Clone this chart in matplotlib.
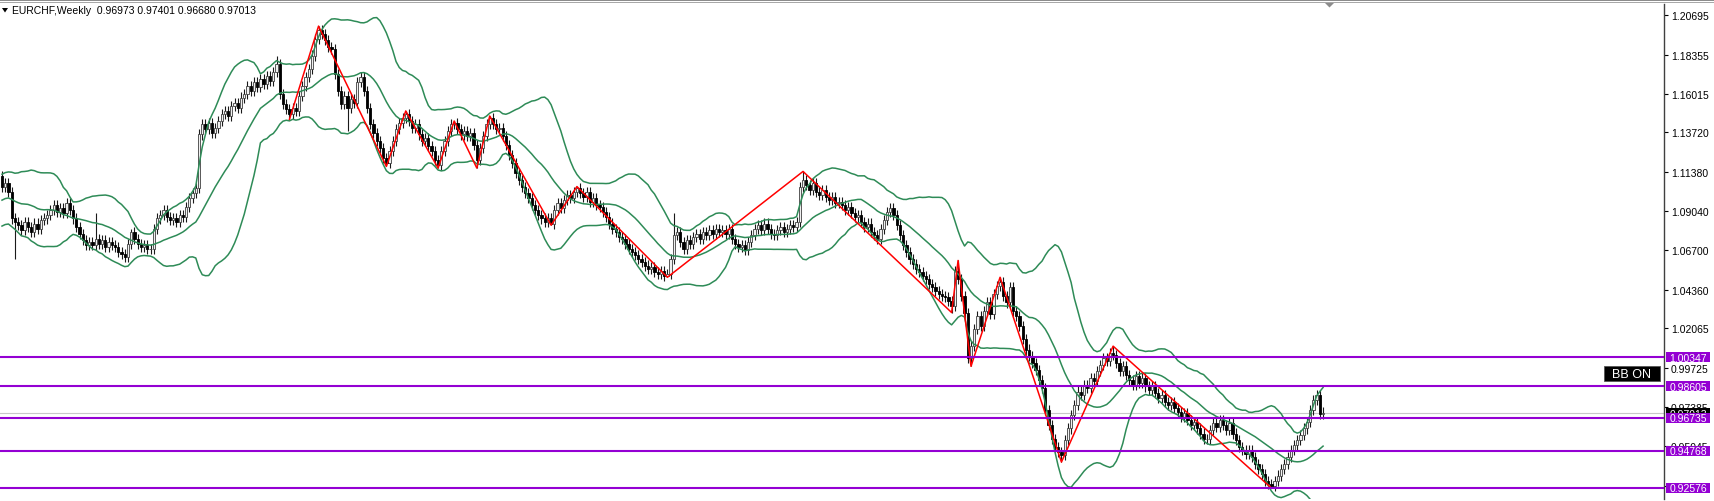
import numpy as np
import pandas as pd
import matplotlib
matplotlib.use("Agg")
import matplotlib.pyplot as plt
from matplotlib.patches import Rectangle, Polygon

plt.rcParams['font.family'] = ['Liberation Sans', 'DejaVu Sans']

# ---------------- data ----------------
symbol = "EURCHF,Weekly"
last_bar_ohlc = ["0.96973", "0.97401", "0.96680", "0.97013"]
current_price = 0.97013

# closes before the visible window (only used to warm up the Bollinger bands)
warmup_closes = [1.088, 1.095, 1.103, 1.106, 1.099, 1.092, 1.087, 1.085, 1.091, 1.098,
                 1.102, 1.096, 1.090, 1.086, 1.092, 1.099, 1.104, 1.109, 1.111]

closes_a = [1.105, 1.107, 1.102, 1.086, 1.084,
            1.082, 1.079, 1.084, 1.081, 1.078, 1.083, 1.080, 1.085, 1.086,
            1.088, 1.091, 1.094, 1.090, 1.092, 1.089, 1.095, 1.091,
            1.086, 1.081, 1.077, 1.073, 1.070,
            1.072, 1.070, 1.074, 1.071, 1.073, 1.069, 1.072, 1.070, 1.069, 1.066, 1.065, 1.063,
            1.071, 1.078, 1.074,
            1.071, 1.069, 1.070, 1.068, 1.068,
            1.080, 1.086, 1.088,
            1.091, 1.087, 1.085, 1.086, 1.084, 1.088, 1.087,
            1.093, 1.098, 1.101, 1.104]
closes_b = [1.136,
            1.142, 1.139, 1.143, 1.137, 1.140, 1.144,
            1.148, 1.150, 1.147, 1.153, 1.155, 1.152, 1.158, 1.160,
            1.165, 1.162, 1.167, 1.164, 1.169, 1.166, 1.171, 1.168, 1.173, 1.178,
            1.160,
            1.154, 1.151, 1.148, 1.152, 1.150,
            1.159, 1.165, 1.170, 1.175, 1.183, 1.193,
            1.198, 1.196, 1.192, 1.188, 1.187,
            1.172,
            1.162, 1.154, 1.159, 1.152, 1.157, 1.155,
            1.167, 1.170, 1.162,
            1.152, 1.142, 1.137, 1.132, 1.128,
            1.122]
closes_c = [1.119,
            1.126, 1.132, 1.139, 1.143, 1.146, 1.148,
            1.144, 1.140, 1.142, 1.136, 1.132, 1.134, 1.129, 1.126, 1.121, 1.118,
            1.126, 1.132, 1.138, 1.142, 1.143,
            1.139, 1.136, 1.138, 1.135, 1.137, 1.130, 1.121,
            1.128, 1.135, 1.142, 1.146,
            1.142, 1.139, 1.140, 1.135, 1.130, 1.124, 1.119, 1.113,
            1.109, 1.105, 1.101, 1.098, 1.094, 1.091, 1.088, 1.086,
            1.084, 1.086, 1.083,
            1.091, 1.095, 1.092, 1.097, 1.100, 1.098, 1.102, 1.104,
            1.101, 1.099, 1.102, 1.096, 1.098, 1.094,
            1.093, 1.090, 1.087, 1.083, 1.080, 1.078, 1.075, 1.074, 1.071, 1.068,
            1.066, 1.064, 1.062, 1.060, 1.058, 1.056, 1.057, 1.054, 1.053,
            1.055, 1.052, 1.053]
closes_d = [1.062, 1.076, 1.078, 1.072,
            1.068, 1.073, 1.071, 1.075, 1.077, 1.074, 1.078, 1.076, 1.079, 1.077, 1.080, 1.078,
            1.079, 1.077, 1.080, 1.074, 1.071, 1.069, 1.070, 1.067, 1.072,
            1.076, 1.080, 1.082, 1.079, 1.083, 1.080, 1.077, 1.076, 1.079, 1.081, 1.078,
            1.080, 1.082, 1.081, 1.084,
            1.105, 1.109]
closes_e = [1.106, 1.103, 1.107, 1.102, 1.100, 1.103, 1.099, 1.097, 1.099, 1.095, 1.096, 1.094,
            1.091, 1.093, 1.089, 1.087, 1.088, 1.084, 1.081, 1.083, 1.078, 1.076, 1.074,
            1.080, 1.085, 1.090, 1.092, 1.088,
            1.082, 1.076, 1.070, 1.066, 1.062, 1.059, 1.056, 1.054, 1.052, 1.050, 1.047, 1.045,
            1.043, 1.041, 1.040, 1.039, 1.037,
            1.034,
            1.055, 1.050,
            1.040, 1.030, 1.003,
            1.010]
closes_f = [1.020, 1.028, 1.022, 1.031, 1.036, 1.029, 1.041, 1.046, 1.048,
            1.040, 1.036, 1.045, 1.031, 1.028,
            1.022, 1.014, 1.008, 1.004, 1.000, 0.996, 0.990,
            0.985, 0.972, 0.963, 0.955, 0.950, 0.947,
            0.945,
            0.954, 0.961, 0.969, 0.975, 0.983, 0.981, 0.987, 0.985, 0.991, 0.989, 0.995,
            0.999, 1.003, 1.001, 1.006,
            1.005]
closes_g = [1.000, 0.995, 0.998, 0.993, 0.990, 0.987,
            0.992, 0.988, 0.991, 0.986, 0.984, 0.986, 0.982, 0.979, 0.981, 0.977, 0.975,
            0.977, 0.973, 0.971, 0.968, 0.970, 0.966, 0.963, 0.965, 0.961, 0.958, 0.955,
            0.955, 0.960, 0.964, 0.962, 0.966, 0.963, 0.960, 0.964, 0.958, 0.954, 0.950,
            0.948, 0.946, 0.948, 0.944, 0.940, 0.937,
            0.934, 0.930, 0.928, 0.927,
            0.930, 0.933, 0.937, 0.940, 0.944, 0.948, 0.951, 0.954, 0.957, 0.961, 0.965,
            0.972, 0.978, 0.981, 0.96973, 0.97013]

# notable wick extremes (bar index -> price)
high_marks = {29: 1.089, 40: 1.080, 85: 1.183, 98: 1.2005, 125: 1.150, 140: 1.144,
              151: 1.147, 178: 1.105, 208: 1.089, 248: 1.114, 296: 1.061, 309: 1.051,
              344: 1.010, 409: 0.97401}
low_marks = {4: 1.062, 89: 1.145, 107: 1.138, 119: 1.117, 135: 1.116, 147: 1.116,
             170: 1.082, 206: 1.051, 294: 1.030, 300: 0.998, 328: 0.941, 393: 0.9256,
             409: 0.96680}
typical_wick = 0.0030

zigzag_bars = [89, 98, 119, 125, 135, 140, 147, 151, 170, 178, 206, 248, 294, 296,
               300, 309, 328, 344, 393]
zigzag_prices = [1.145, 1.2005, 1.117, 1.150, 1.116, 1.144, 1.116, 1.147, 1.082, 1.105,
                 1.051, 1.114, 1.030, 1.061, 0.998, 1.051, 0.941, 1.010, 0.9256]

levels = [1.00347, 0.98605, 0.96735, 0.94768, 0.92576]
level_labels = ["1.00347", "0.98605", "0.96735", "0.94768", "0.92576"]

tick_values = [1.20695, 1.18355, 1.16015, 1.13720, 1.11380, 1.09040, 1.06700,
               1.04360, 1.02065, 0.99725, 0.97385, 0.95045, 0.92705]
tick_labels = ["1.20695", "1.18355", "1.16015", "1.13720", "1.11380", "1.09040", "1.06700",
               "1.04360", "1.02065", "0.99725", "0.97385", "0.95045", "0.92705"]

bb_period = 20
bb_dev = 2.0

# ---------------- layout ----------------
W, H = 1715, 502
AX_RIGHT_PX = 1664
Y_TOP_PX, Y_BOT_PX = 5, 500
YMAX, YMIN = 1.21366, 0.91902
BAR_PX = 3.23
X0_PX = 2

GREEN = '#2E8B57'
PURPLE = '#9400D3'

fig = plt.figure(figsize=(W / 100, H / 100), dpi=100)
fig.patch.set_facecolor('white')
ax = fig.add_axes([0, 1 - Y_BOT_PX / H, AX_RIGHT_PX / W, (Y_BOT_PX - Y_TOP_PX) / H])
ax.set_facecolor('white')

closes = closes_a + closes_b + closes_c + closes_d + closes_e + closes_f + closes_g
c = np.array(closes, dtype=float)
n = len(c)
x = np.arange(n)
o = np.r_[warmup_closes[-1], c[:-1]]
hi = np.maximum(o, c) + typical_wick
lo = np.minimum(o, c) - typical_wick
for k, v in high_marks.items():
    if k < n:
        hi[k] = max(v, o[k], c[k])
for k, v in low_marks.items():
    if k < n:
        lo[k] = min(v, o[k], c[k])

# candles
ax.vlines(x, lo, hi, color='#1a1a1a', lw=0.8, zorder=2)
up = c >= o
ax.bar(x[up], (c - o)[up], bottom=o[up], width=0.7, facecolor='#f0f0f0',
       edgecolor='#404040', linewidth=0.6, zorder=3)
ax.bar(x[~up], (o - c)[~up], bottom=c[~up], width=0.7, facecolor='black',
       edgecolor='black', linewidth=0.6, zorder=3)

# Bollinger bands
series = pd.Series(list(warmup_closes) + closes)
mid = series.rolling(bb_period).mean().iloc[len(warmup_closes):].to_numpy()
sd = series.rolling(bb_period).std(ddof=0).iloc[len(warmup_closes):].to_numpy()
for line in (mid + bb_dev * sd, mid, mid - bb_dev * sd):
    ax.plot(x, line, color=GREEN, lw=1.1, zorder=4, solid_joinstyle='round')

# zigzag
ax.plot(zigzag_bars, zigzag_prices, color='#FF0000', lw=1.1, zorder=5)

# bid line and levels
ax.axhline(current_price, color='#C8C8C8', lw=0.8, zorder=1)
for lv in levels:
    ax.axhline(lv, color=PURPLE, lw=1.5, zorder=6)

ax.set_xlim(-X0_PX / BAR_PX, (AX_RIGHT_PX - X0_PX) / BAR_PX)
ax.set_ylim(YMIN, YMAX)
ax.set_xticks([])
ax.yaxis.tick_right()
ax.set_yticks(tick_values)
ax.set_yticklabels(tick_labels)
ax.tick_params(axis='y', direction='out', length=3, width=0.8, pad=2,
               labelsize=7.5, colors='black')
for s in ('left', 'top', 'bottom'):
    ax.spines[s].set_visible(False)
ax.spines['right'].set_color('#404040')
ax.spines['right'].set_linewidth(1.0)


def price_to_figy(p):
    px = Y_TOP_PX + (YMAX - p) / (YMAX - YMIN) * (Y_BOT_PX - Y_TOP_PX)
    return 1 - px / H


# current price label (black)
yc = price_to_figy(current_price)
fig.add_artist(Rectangle((1666 / W, yc - 5 / H), 44 / W, 10 / H, transform=fig.transFigure,
                         facecolor='black', edgecolor='none', zorder=9))
fig.text(1688 / W, yc - 0.5 / H, last_bar_ohlc[3], ha='center', va='center', color='white',
         fontsize=7.5, zorder=9.5)

# level labels (purple)
for lv, lab in zip(levels, level_labels):
    yl = price_to_figy(lv)
    fig.add_artist(Rectangle((1666 / W, yl - 5 / H), 44 / W, 10 / H, transform=fig.transFigure,
                             facecolor=PURPLE, edgecolor='none', zorder=10))
    fig.text(1688 / W, yl - 0.5 / H, lab, ha='center', va='center', color='white',
             fontsize=7.5, zorder=11)

# BB ON box
fig.add_artist(Rectangle((1604 / W, 1 - 382 / H), 56 / W, 15 / H, transform=fig.transFigure,
                         facecolor='black', edgecolor='#555555', lw=0.6, zorder=10))
fig.text(1632 / W, 1 - 375 / H, "BB ON", ha='center', va='center', color='white',
         fontsize=9, zorder=11)

# title
fig.add_artist(Polygon([(2 / W, 1 - 9 / H), (8 / W, 1 - 9 / H), (5 / W, 1 - 13.5 / H)],
                       closed=True, transform=fig.transFigure, facecolor='black',
                       edgecolor='none', zorder=10))
fig.text(12 / W, 1 - 11.5 / H, symbol + "  " + " ".join(last_bar_ohlc), ha='left',
         va='center', fontsize=7.5, color='black', zorder=10)

# window frame on top
fig.add_artist(Rectangle((0, 1 - 2 / H), 1, 2 / H, transform=fig.transFigure,
                         facecolor='#8c8c8c', edgecolor='none', zorder=12))
fig.add_artist(Rectangle((0, 1 - 4 / H), 1, 1 / H, transform=fig.transFigure,
                         facecolor='#a8a8a8', edgecolor='none', zorder=12))
fig.add_artist(Polygon([(1325 / W, 1 - 4 / H), (1334 / W, 1 - 4 / H), (1329.5 / W, 1 - 8.5 / H)],
                       closed=True, transform=fig.transFigure, facecolor='#8c8c8c',
                       edgecolor='none', zorder=12))

fig.savefig('out.png', dpi=100)
